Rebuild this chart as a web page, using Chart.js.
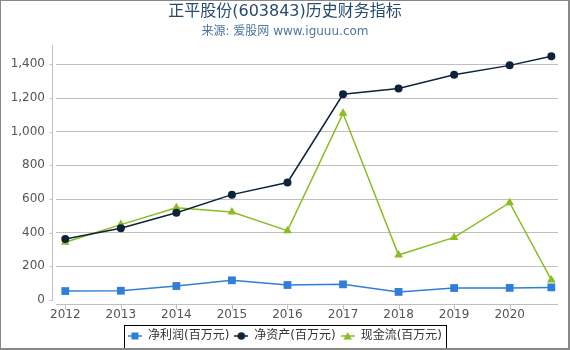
<!DOCTYPE html>
<html><head><meta charset="utf-8">
<script src="https://cdn.jsdelivr.net/npm/chart.js@4/dist/chart.umd.min.js"></script>
<style>
html,body{margin:0;padding:0;background:#fff;}
#wrap{position:relative;width:570px;height:350px;}
#frame{position:absolute;left:0;top:0;width:570px;height:350px;box-sizing:border-box;border-style:solid;border-color:#888;border-width:1px 2px 2px 1px;pointer-events:none;}
canvas{display:block;}
</style></head><body>
<div id="wrap"><canvas id="c" width="570" height="350"></canvas><div id="frame"></div></div>
<script>
const periods = [2012, 2013, 2014, 2015, 2016, 2017, 2018, 2019, 2020, 2020.75];
const tickYears = [2012, 2013, 2014, 2015, 2016, 2017, 2018, 2019, 2020];
const yTicks = [0, 200, 400, 600, 800, 1000, 1200, 1400];
const netProfit = [53, 55, 83, 117, 89, 93, 48, 71, 72, 75];
const netAssets = [362, 426, 518, 626, 698, 1222, 1257, 1338, 1394, 1448];
const cashFlow = [343, 448, 548, 523, 412, 1109, 267, 372, 578, 119];
const seriesNames = ['净利润(百万元)', '净资产(百万元)', '现金流(百万元)'];
const titleText = '正平股份(603843)历史财务指标';
const subtitleText = '来源: 爱股网 www.iguuu.com';

const FONT = '"DejaVu Sans", "Noto Sans CJK SC", sans-serif';
const colors = ['#2f7ed8', '#0d233a', '#8bbc21'];
const styles = ['rect', 'circle', 'triangle'];

function symbol(color, style) {
  const c = document.createElement('canvas');
  c.width = 14; c.height = 10;
  const g = c.getContext('2d');
  g.strokeStyle = color; g.lineWidth = 1.5;
  g.beginPath(); g.moveTo(0, 5); g.lineTo(14, 5); g.stroke();
  g.fillStyle = color;
  g.beginPath();
  if (style === 'rect') g.rect(3.5, 1.5, 7, 7);
  else if (style === 'circle') g.arc(7, 5, 3.8, 0, Math.PI * 2);
  else { g.moveTo(7, 1); g.lineTo(11.2, 8.5); g.lineTo(2.8, 8.5); g.closePath(); }
  g.fill();
  return c;
}
const legendSymbols = colors.map((c, i) => symbol(c, styles[i]));

function pts(vals) { return vals.map((v, i) => ({x: periods[i], y: v})); }

const axisPlugin = {
  id: 'axisLines',
  beforeDatasetsDraw(chart) {
    const {ctx, chartArea: a, scales: {x, y}} = chart;
    ctx.save();
    ctx.strokeStyle = '#c0c0c0'; ctx.lineWidth = 1;
    ctx.beginPath();
    const ax = a.left - 3.5;
    ctx.moveTo(ax, a.top); ctx.lineTo(ax, a.bottom + 1);
    y.ticks.forEach(t => { const py = Math.round(y.getPixelForValue(t.value)) + 0.5; ctx.moveTo(ax - 3, py); ctx.lineTo(ax, py); });
    const ay = a.bottom + 4.5;
    ctx.moveTo(a.left, ay); ctx.lineTo(a.right, ay);
    x.ticks.forEach(t => { const px = Math.round(x.getPixelForValue(t.value)) + 0.5; ctx.moveTo(px, ay); ctx.lineTo(px, ay + 5); });
    ctx.stroke();
    ctx.restore();
  }
};
const legendBox = {
  id: 'legendBox',
  afterDraw(chart) {
    const hb = chart.legend && chart.legend.legendHitBoxes;
    if (!hb || !hb.length) return;
    const l = Math.min(...hb.map(h => h.left)) - 4;
    const r = Math.max(...hb.map(h => h.left + h.width)) + 4;
    const t = hb[0].top - 5;
    const b = chart.height - 2;
    const ctx = chart.ctx;
    ctx.save(); ctx.strokeStyle = '#000'; ctx.lineWidth = 1;
    ctx.strokeRect(Math.round(l) + 0.5, Math.round(t) + 0.5, Math.round(r - l), Math.round(b - t));
    ctx.restore();
  }
};

const series = [netProfit, netAssets, cashFlow];
new Chart(document.getElementById('c'), {
  type: 'line',
  data: {
    datasets: series.map((s, i) => ({
      label: seriesNames[i],
      data: pts(s),
      borderColor: colors[i],
      backgroundColor: colors[i],
      borderWidth: 1.5,
      pointStyle: styles[i],
      pointRadius: [5.5, 4, 5][i],
      pointBorderWidth: 0,
      pointBackgroundColor: colors[i],
      tension: 0,
      fill: false
    }))
  },
  options: {
    responsive: false,
    animation: false,
    devicePixelRatio: 1,
    layout: {padding: {left: 0, right: 0, top: 0, bottom: 0}},
    plugins: {
      tooltip: {enabled: false},
      title: {display: true, text: titleText, color: '#274b6d', font: {family: FONT, size: 16, weight: 'normal'}, padding: {top: 2, bottom: 0}},
      subtitle: {display: true, text: subtitleText, color: '#4d759e', font: {family: FONT, size: 12, weight: 'normal'}, padding: {top: 3, bottom: 6.4}},
      legend: {
        display: true, position: 'bottom', maxHeight: 25,
        labels: {
          color: '#333', font: {family: FONT, size: 12}, padding: 5,
          usePointStyle: true, pointStyleWidth: 14,
          generateLabels(chart) {
            const items = Chart.defaults.plugins.legend.labels.generateLabels(chart);
            items.forEach((it, i) => { it.pointStyle = legendSymbols[i]; });
            return items;
          }
        }
      }
    },
    scales: {
      x: {
        type: 'linear', min: 2011.833, max: 2020.87,
        afterBuildTicks(sc) { sc.ticks = tickYears.map(v => ({value: v})); },
        afterFit(sc) { sc.height = 25; },
        grid: {display: false, drawTicks: false},
        border: {display: false},
        ticks: {color: '#555', font: {family: FONT, size: 12}, padding: 8, maxRotation: 0, autoSkip: false, callback: v => String(v)}
      },
      y: {
        type: 'linear', min: 0, max: 1515,
        afterBuildTicks(sc) { sc.ticks = yTicks.map(v => ({value: v})); },
        afterFit(sc) { sc.width = 56; },
        grid: {color: c => (c.tick && c.tick.value === 0) ? 'rgba(0,0,0,0)' : '#c0c0c0', drawTicks: false, lineWidth: 1},
        border: {display: false},
        ticks: {color: '#555', font: {family: FONT, size: 12}, padding: 11, callback: v => v.toLocaleString('en-US')}
      },
      y2: {
        type: 'linear', position: 'right', display: true,
        afterFit(sc) { sc.width = 12; },
        grid: {display: false, drawTicks: false},
        border: {display: false},
        ticks: {display: false}
      }
    }
  },
  plugins: [axisPlugin, legendBox]
});
</script>
</body></html>
